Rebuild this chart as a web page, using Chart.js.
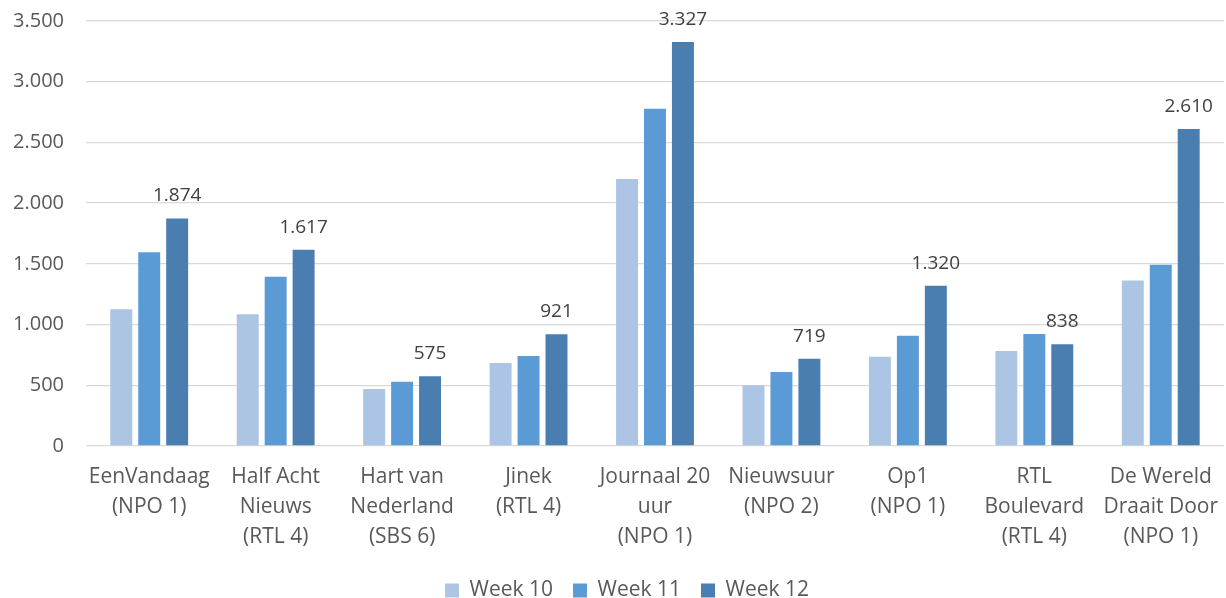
<!DOCTYPE html>
<html>
<head>
<meta charset="utf-8">
<script src="https://cdn.jsdelivr.net/npm/chart.js@4/dist/chart.umd.min.js"></script>
<style>
    html, body { margin: 0; padding: 0; background: #fff; overflow: hidden; }
    #wrap { width: 1226px; height: 611px; }
</style>
</head>
<body>
<div id="wrap"><canvas id="myChart"></canvas></div>
<script>
// Data
const programmes = [
    ['EenVandaag', '(NPO 1)'],
    ['Half Acht', 'Nieuws', '(RTL 4)'],
    ['Hart van', 'Nederland', '(SBS 6)'],
    ['Jinek', '(RTL 4)'],
    ['Journaal 20', 'uur', '(NPO 1)'],
    ['Nieuwsuur', '(NPO 2)'],
    ['Op1', '(NPO 1)'],
    ['RTL', 'Boulevard', '(RTL 4)'],
    ['De Wereld', 'Draait Door', '(NPO 1)']
];
const seriesNames = ['Week 10', 'Week 11', 'Week 12'];
const week10 = [1126, 1085, 470, 684, 2198, 500, 736, 783, 1363];
const week11 = [1596, 1393, 530, 742, 2777, 610, 907, 923, 1492];
const week12 = [1874, 1617, 575, 921, 3327, 719, 1320, 838, 2610];
const yTicks = [0, 500, 1000, 1500, 2000, 2500, 3000, 3500];

const colors = ['#adc5e5', '#5b9bd5', '#4a7eb0'];
const FONT = "'Open Sans', sans-serif";

function formatNL(v) {
    return String(v).replace(/\B(?=(\d{3})+(?!\d))/g, '.');
}

// labels above the Week 12 bars
const valueLabels = {
    id: 'valueLabels',
    afterLayout(chart) {
        // legend sits a bit right of the canvas centre
        if (chart.legend) {
            chart.legend.left += 14;
            chart.legend.right += 14;
        }
    },
    afterDatasetsDraw(chart) {
        const ctx = chart.ctx;
        const meta = chart.getDatasetMeta(2);
        ctx.save();
        ctx.font = '19px ' + FONT;
        ctx.fillStyle = '#404040';
        ctx.textAlign = 'center';
        ctx.textBaseline = 'bottom';
        meta.data.forEach(function (bar, i) {
            ctx.fillText(formatNL(week12[i]), bar.x, bar.y - 13);
        });
        ctx.restore();
    }
};

const ctx = document.getElementById('myChart');

new Chart(ctx, {
    type: 'bar',
    data: {
        labels: programmes,
        datasets: [
            { label: seriesNames[0], data: week10, backgroundColor: colors[0] },
            { label: seriesNames[1], data: week11, backgroundColor: colors[1] },
            { label: seriesNames[2], data: week12, backgroundColor: colors[2] }
        ]
    },
    options: {
        responsive: true,
        maintainAspectRatio: false,
        animation: false,
        categoryPercentage: 0.663,
        barPercentage: 0.786,
        layout: {
            padding: { top: 21, right: 0, left: 0, bottom: 0 }
        },
        plugins: {
            legend: {
                position: 'bottom',
                labels: {
                    boxWidth: 14,
                    boxHeight: 14,
                    padding: 20,
                    color: '#595959',
                    font: { family: FONT, size: 21 }
                }
            },
            tooltip: { enabled: false }
        },
        scales: {
            x: {
                grid: { display: false },
                border: { display: false },
                ticks: {
                    color: '#595959',
                    maxRotation: 0,
                    autoSkip: false,
                    padding: 8,
                    font: { family: FONT, size: 21, lineHeight: 30 / 21 }
                }
            },
            y: {
                min: 0,
                max: 3500,
                afterFit: function (scale) {
                    scale.width = 86;
                    scale.paddingTop = 0;
                    scale.paddingBottom = 0;
                },
                afterBuildTicks: function (scale) {
                    scale.ticks = yTicks.map(v => ({ value: v }));
                },
                grid: { color: '#d9d9d9', lineWidth: 1.3, drawTicks: false },
                border: { display: false },
                ticks: {
                    color: '#595959',
                    padding: 22,
                    font: { family: FONT, size: 20, lineHeight: 0.2 },
                    callback: function (v) { return formatNL(v); }
                }
            }
        }
    },
    plugins: [valueLabels]
});
</script>
</body>
</html>
